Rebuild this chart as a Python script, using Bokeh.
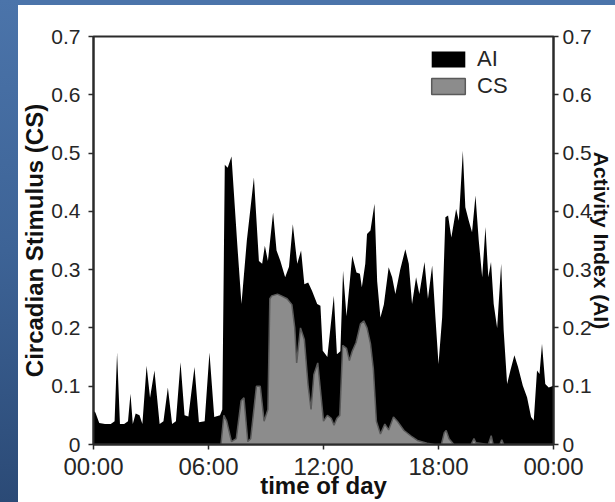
from bokeh.plotting import figure
from bokeh.models import (Range1d, FixedTicker, NumeralTickFormatter, LinearAxis,
                          Legend, LegendItem, ColumnDataSource, Spacer)
from bokeh.layouts import row, column
from bokeh.embed import file_html
from bokeh.resources import INLINE

# ---------------- data (hours of day, index values) ----------------
ai_hours = [0.00, 0.10, 0.30, 0.60, 0.90, 1.10, 1.23, 1.38, 1.60, 1.80, 1.93, 2.05, 2.20, 2.40,
            2.55, 2.77, 2.95, 3.18, 3.45, 3.65, 3.88, 4.10, 4.30, 4.54, 4.75, 4.95, 5.27, 5.50,
            5.80, 6.05, 6.30, 6.60, 6.72, 6.85, 7.00, 7.20, 7.50, 7.72, 8.00, 8.37, 8.63, 8.80,
            8.94, 9.10, 9.37, 9.55, 9.75, 10.00, 10.20, 10.40, 10.63, 10.83, 11.00, 11.20, 11.40,
            11.67, 11.84, 11.96, 12.10, 12.20, 12.54, 12.70, 12.88, 13.02, 13.20, 13.50, 13.72,
            13.90, 14.00, 14.18, 14.27, 14.45, 14.66, 14.80, 14.97, 15.15, 15.40, 15.58, 15.75,
            16.00, 16.27, 16.45, 16.62, 16.83, 17.00, 17.27, 17.45, 17.67, 17.84, 18.00, 18.19,
            18.36, 18.50, 18.67, 18.92, 19.06, 19.27, 19.40, 19.58, 19.75, 19.93, 20.10, 20.28,
            20.45, 20.60, 20.74, 20.88, 21.06, 21.27, 21.40, 21.58, 21.75, 21.96, 22.15, 22.40,
            22.62, 22.83, 22.97, 23.14, 23.27, 23.40, 23.57, 23.75, 24.00]
ai_values = [0.058, 0.055, 0.037, 0.035, 0.035, 0.040, 0.158, 0.035, 0.035, 0.040, 0.087, 0.035,
             0.053, 0.050, 0.035, 0.135, 0.080, 0.127, 0.035, 0.040, 0.098, 0.035, 0.040, 0.141,
             0.050, 0.048, 0.133, 0.038, 0.040, 0.158, 0.047, 0.050, 0.060, 0.480, 0.475, 0.494,
             0.344, 0.241, 0.350, 0.458, 0.315, 0.310, 0.341, 0.315, 0.398, 0.333, 0.315, 0.287,
             0.305, 0.378, 0.310, 0.333, 0.275, 0.278, 0.264, 0.241, 0.238, 0.161, 0.155, 0.150,
             0.255, 0.155, 0.160, 0.298, 0.220, 0.324, 0.295, 0.293, 0.270, 0.310, 0.361, 0.367,
             0.413, 0.280, 0.218, 0.240, 0.304, 0.287, 0.258, 0.300, 0.335, 0.310, 0.241, 0.287,
             0.258, 0.313, 0.250, 0.307, 0.218, 0.138, 0.218, 0.390, 0.393, 0.355, 0.404, 0.384,
             0.504, 0.407, 0.384, 0.364, 0.427, 0.350, 0.287, 0.373, 0.287, 0.313, 0.241, 0.200,
             0.310, 0.196, 0.104, 0.127, 0.153, 0.133, 0.101, 0.081, 0.047, 0.041, 0.127, 0.121,
             0.173, 0.104, 0.098, 0.101]

cs_hours = [0.00, 6.65, 6.80, 6.95, 7.20, 7.45, 7.70, 7.85, 8.05, 8.20, 8.50, 8.70, 8.90, 9.10,
            9.20, 9.30, 9.60, 9.80, 10.10, 10.35, 10.50, 10.60, 10.80, 11.00, 11.20, 11.35, 11.50,
            11.70, 11.85, 12.00, 12.20, 12.40, 12.55, 12.70, 12.85, 13.00, 13.20, 13.35, 13.50,
            13.70, 13.93, 14.10, 14.27, 14.45, 14.60, 14.76, 14.97, 15.20, 15.40, 15.65, 15.85,
            16.20, 16.55, 16.90, 17.40, 17.80, 18.15, 18.30, 18.40, 18.55, 18.80, 19.70, 19.85,
            19.95, 20.60, 20.75, 20.85, 21.20, 21.30, 21.40, 24.00]
cs_values = [0.000, 0.000, 0.050, 0.040, 0.005, 0.010, 0.075, 0.080, 0.005, 0.010, 0.100, 0.100,
             0.040, 0.060, 0.250, 0.255, 0.258, 0.255, 0.250, 0.240, 0.200, 0.140, 0.200, 0.180,
             0.100, 0.060, 0.120, 0.140, 0.090, 0.040, 0.050, 0.045, 0.033, 0.045, 0.050, 0.170,
             0.165, 0.144, 0.160, 0.175, 0.207, 0.212, 0.200, 0.173, 0.130, 0.040, 0.018, 0.035,
             0.025, 0.047, 0.040, 0.024, 0.015, 0.007, 0.002, 0.000, 0.000, 0.020, 0.024, 0.010,
             0.000, 0.000, 0.010, 0.003, 0.000, 0.015, 0.000, 0.000, 0.008, 0.000, 0.000]

series_names = ["AI", "CS"]
x_tick_hours = [0, 6, 12, 18, 24]
x_tick_labels = ["00:00", "06:00", "12:00", "18:00", "00:00"]
y_ticks = [0, 0.1, 0.2, 0.3, 0.4, 0.5, 0.6, 0.7]
x_title = "time of day"
y_title_left = "Circadian Stimulus (CS)"
y_title_right = "Activity Index (AI)"

# ---------------- styling ----------------
FONT = "Liberation Sans"
AXIS_COLOR = "#2b2b2b"
TEXT_COLOR = "#262626"
TITLE_COLOR = "#111111"
AI_COLOR = "#000000"
CS_COLOR = "#8c8c8c"

p = figure(width=597, height=497, output_backend="svg", toolbar_location=None,
           x_range=Range1d(0, 24), y_range=Range1d(0, 0.7),
           min_border_left=75, min_border_right=62, min_border_top=31, min_border_bottom=58)
p.grid.visible = False
p.background_fill_color = "white"
p.border_fill_color = "white"
p.outline_line_color = AXIS_COLOR
p.outline_line_width = 2

ai_src = ColumnDataSource(dict(t=ai_hours, v=ai_values))
cs_src = ColumnDataSource(dict(t=cs_hours, v=cs_values))
r_ai = p.varea(x="t", y1=0, y2="v", source=ai_src, fill_color=AI_COLOR)
# CS starts and ends on the baseline, so the patch closes along y = 0
r_cs = p.patch(x="t", y="v", source=cs_src, fill_color=CS_COLOR,
               line_color="#5a5a5a", line_width=1.5)

legend = Legend(items=[LegendItem(label=series_names[0], renderers=[r_ai]),
                       LegendItem(label=series_names[1], renderers=[r_cs])],
                location=(334, 345), orientation="vertical",
                glyph_width=42, glyph_height=20, label_standoff=8, spacing=1,
                padding=0, margin=0, border_line_color=None, background_fill_alpha=0,
                label_text_font=FONT, label_text_font_size="22px", label_text_color=TEXT_COLOR)
p.add_layout(legend)


def style_axis(ax, font_size, standoff, title_size="24px"):
    ax.axis_line_color = AXIS_COLOR
    ax.axis_line_width = 2
    ax.major_tick_line_color = AXIS_COLOR
    ax.major_tick_line_width = 1.5
    ax.major_tick_out = 5
    ax.major_tick_in = 0
    ax.minor_tick_line_color = None
    ax.major_label_text_font = FONT
    ax.major_label_text_font_size = font_size
    ax.major_label_text_color = TEXT_COLOR
    ax.major_label_standoff = standoff
    ax.axis_label_text_font = FONT
    ax.axis_label_text_font_style = "bold"
    ax.axis_label_text_font_size = title_size
    ax.axis_label_text_color = TITLE_COLOR


xa = p.xaxis[0]
xa.ticker = FixedTicker(ticks=x_tick_hours)
xa.major_label_overrides = {h: lab for h, lab in zip(x_tick_hours, x_tick_labels)}
style_axis(xa, "24px", 3)
xa.axis_label = x_title
xa.axis_label_standoff = -11

ya = p.yaxis[0]
ya.ticker = FixedTicker(ticks=y_ticks)
ya.formatter = NumeralTickFormatter(format="0.[0]")
style_axis(ya, "21px", 8)
ya.axis_label = y_title_left
ya.axis_label_standoff = 0

yr = LinearAxis(ticker=FixedTicker(ticks=y_ticks), formatter=NumeralTickFormatter(format="0.[0]"))
style_axis(yr, "21px", 4, title_size="21px")
yr.axis_label = y_title_right
yr.axis_label_standoff = -5
p.add_layout(yr, "right")

BLUE_GRAD = "linear-gradient(180deg, #4b74aa 0%, #3d6396 50%, #2b4a76 100%)"
left_band = Spacer(width=18, height=502, styles={"background": BLUE_GRAD})
top_band = Spacer(width=597, height=5, styles={"background": "#4b74aa"})
layout = row(left_band, column(top_band, p))

open("out.html", "w").write(file_html(layout, INLINE))
